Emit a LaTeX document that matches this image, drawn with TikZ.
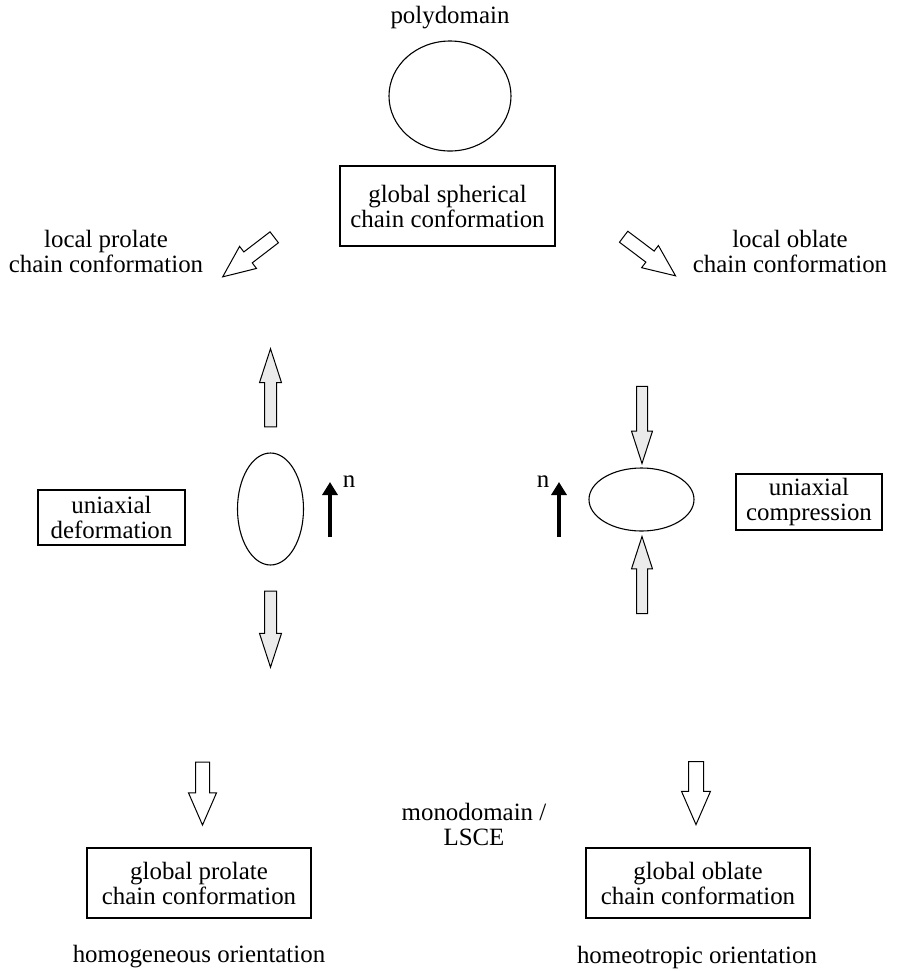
\documentclass[tikz,border=0pt]{standalone}
\usepackage{fontspec}
\setmainfont{Liberation Serif}
\usepackage{xcolor}
\usetikzlibrary{positioning,shapes.geometric,shapes.arrows,arrows.meta}
\definecolor{ArrowGray}{HTML}{EBEBEB}
\tikzset{
  txt/.style={align=center, inner sep=0pt, font=\fontsize{12.45}{12.5}\selectfont},
  frame/.style={txt, draw, line width=0.6pt},
  blob/.style={draw, ellipse, inner sep=0pt, line width=0.55pt},
  grayarrow/.style={draw, single arrow, fill=ArrowGray, line width=0.5pt, inner xsep=0pt,
    inner ysep=2.65pt, single arrow head extend=2.5pt, single arrow tip angle=36, minimum height=39pt},
  hollowarrow/.style={draw, single arrow, fill=white, line width=0.5pt, inner xsep=0pt,
    inner ysep=3.25pt, single arrow head extend=3.5pt, single arrow tip angle=47, minimum height=31.5pt},
  director/.style={line width=2pt, -{Triangle[width=7.5pt,length=6.5pt]}}
}
\begin{document}
\begin{tikzpicture}[x=0.5pt, y=-0.5pt]
  \useasboundingbox (0,0) rectangle (896,971);
  % Nodes
  \node[txt] (poly) at (450,18) {polydomain};
  \node[blob, minimum width=61pt, minimum height=55pt] (sphere) at (450,96) {};
  \node[frame, minimum width=107.5pt, minimum height=40pt] (gsph) at (447.5,206) {global spherical\\chain conformation};
  \node[txt] (lprol) at (106,251.5) {local prolate\\chain conformation};
  \node[txt] (lobl) at (790,251.5) {local oblate\\chain conformation};
  \node[frame, minimum width=73.5pt, minimum height=27.5pt] (udef) at (111.5,517.5) {uniaxial\\deformation};
  \node[frame, minimum width=73pt, minimum height=28pt] (ucomp) at (809,502) {uniaxial\\compression};
  \node[blob, minimum width=33pt, minimum height=56pt] (prolate) at (270.5,509) {};
  \node[blob, minimum width=52.5pt, minimum height=31.5pt] (oblate) at (641.5,499.5) {};
  \node[txt] (nl) at (349,482) {n};
  \node[txt] (nr) at (543,482) {n};
  \node[txt] (mono) at (474,824.5) {monodomain /\\LSCE};
  \node[frame, minimum width=112pt, minimum height=35pt] (gprol) at (199,883) {global prolate\\chain conformation};
  \node[frame, minimum width=112pt, minimum height=35pt] (gobl) at (698,883) {global oblate\\chain conformation};
  \node[txt] (homog) at (199,957) {homogeneous orientation};
  \node[txt] (homeo) at (697,957) {homeotropic orientation};
  % Block arrows
  \node[hollowarrow, inner ysep=3.2pt, minimum height=32.5pt, rotate=217.5] (toprol) at (254.75,252.25) {};
  \node[hollowarrow, inner ysep=3.2pt, minimum height=32.5pt, rotate=-37] (toobl) at (643.25,251.5) {};
  \node[grayarrow, inner ysep=2.75pt, rotate=90] (pullup) at (270.5,397) {};
  \node[grayarrow, inner ysep=2.75pt, minimum height=38pt, rotate=-90] (pulldown) at (270.5,620) {};
  \node[grayarrow, inner ysep=2.5pt, minimum height=38.5pt, rotate=-90] (pushdown) at (642,416.5) {};
  \node[grayarrow, inner ysep=2.5pt, minimum height=38.5pt, rotate=90] (pushup) at (642,583.5) {};
  \node[hollowarrow, rotate=-90] (toglob1) at (202.5,785.5) {};
  \node[hollowarrow, inner ysep=3.5pt, rotate=-90] (toglob2) at (696,784.5) {};
  % Directors
  \coordinate (nl0) at (330,537);
  \coordinate (nl1) at (330,482);
  \coordinate (nr0) at (559,537);
  \coordinate (nr1) at (559,482);
  \draw[director] (nl0) -- (nl1);
  \draw[director] (nr0) -- (nr1);
\end{tikzpicture}
\end{document}
